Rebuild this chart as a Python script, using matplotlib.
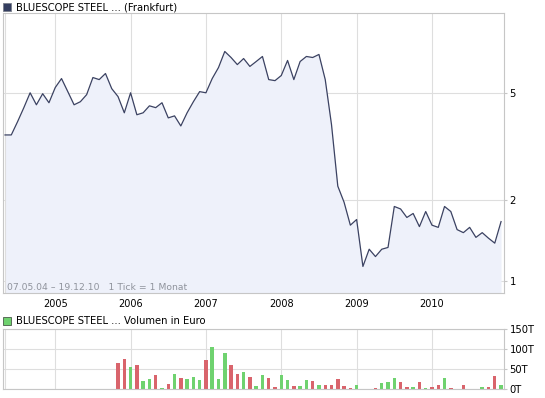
import matplotlib
matplotlib.use("Agg")
import matplotlib.pyplot as plt
from matplotlib.patches import Rectangle

# monthly closing prices, May 2004 .. Dec 2010 (EUR)
prices = [
    3.49, 3.49, 3.91, 4.41, 5.01, 4.52, 4.97, 4.60, 5.24, 5.66,
    5.06, 4.52, 4.64, 4.93, 5.71, 5.61, 5.91, 5.19, 4.85, 4.22,
    5.01, 4.15, 4.22, 4.48, 4.41, 4.60, 4.04, 4.11, 3.77, 4.22,
    4.64, 5.06, 5.01, 5.66, 6.22, 7.14, 6.78, 6.38, 6.72, 6.28,
    6.55, 6.84, 5.61, 5.56, 5.81, 6.61, 5.61, 6.55, 6.84, 6.78,
    6.96, 5.61, 3.81, 2.25, 1.96, 1.61, 1.69, 1.13, 1.31, 1.23,
    1.31, 1.33, 1.89, 1.85, 1.72, 1.78, 1.59, 1.81, 1.61, 1.58,
    1.89, 1.81, 1.55, 1.51, 1.58, 1.45, 1.51, 1.44, 1.38, 1.66,
]

# monthly volume in thousand EUR, Nov 2005 .. Dec 2010
vol_start = 18
volumes = [
    65, 75, 54, 59, 19, 24, 34, 3, 12, 37,
    27, 24, 29, 22, 72, 104, 25, 90, 59, 37,
    42, 29, 7, 34, 27, 5, 34, 22, 7, 7,
    22, 19, 10, 10, 10, 24, 7, 3, 10, 0,
    0, 3, 15, 17, 27, 17, 4, 6, 17, 3,
    6, 10, 27, 3, 1, 10, 0, 0, 6, 6,
    32, 10,
]
# 1 = month closed up (green), 0 = down (red)
vol_up = [
    0, 0, 1, 0, 1, 1, 0, 1, 0, 1,
    0, 1, 1, 1, 0, 1, 1, 1, 0, 0,
    1, 0, 1, 1, 0, 0, 1, 1, 0, 1,
    1, 0, 1, 0, 0, 0, 0, 0, 1, 1,
    1, 0, 1, 1, 1, 0, 0, 1, 0, 1,
    0, 0, 1, 0, 0, 0, 0, 0, 1, 0,
    0, 1,
]

year_labels = ["2005", "2006", "2007", "2008", "2009", "2010"]
year_pos = [8, 20, 32, 44, 56, 68]
price_ticks = [1, 2, 5]
vol_ticks = [0, 50, 100, 150]
vol_tick_labels = ["0T", "50T", "100T", "150T"]

W, H = 545, 398
BORDER = "#c6c6c6"
GRID = "#dedede"
LINE = "#3b4262"
FILL = "#eef1fa"
RED = "#d9646c"
GREEN = "#6fd26f"
FONT = 6.6

fig = plt.figure(figsize=(W / 100, H / 100), dpi=100)
fig.patch.set_facecolor("white")


def px_axes(left, top, right, bottom):
    return fig.add_axes([left / W, 1 - bottom / H,
                         (right - left) / W, (bottom - top) / H])


def style(ax):
    for s in ax.spines.values():
        s.set_color(BORDER)
        s.set_linewidth(0.8)
    ax.yaxis.tick_right()
    ax.tick_params(axis="y", length=2, color=BORDER, labelsize=FONT + 0.6,
                   pad=2)
    ax.tick_params(axis="x", length=0, labelsize=FONT + 0.4, pad=4)
    ax.set_axisbelow(True)
    ax.set_xticks(year_pos)
    ax.grid(True, color=GRID, lw=0.8)
    # left double line
    ax.axvline(0, color=GRID, lw=0.8)


x = list(range(len(prices)))
xlim = (-0.32, 79.47)

# --- price panel
ax = px_axes(3, 13, 504, 293)
style(ax)
ax.set_yscale("log")
ax.fill_between(x, prices, 0.5, color=FILL, lw=0)
ax.plot(x, prices, color=LINE, lw=0.9)
ax.set_xlim(*xlim)
ax.set_ylim(0.90, 9.93)
ax.set_yticks(price_ticks)
ax.set_yticklabels([str(t) for t in price_ticks])
ax.yaxis.set_minor_locator(matplotlib.ticker.NullLocator())
ax.set_xticklabels(year_labels)
ax.text(4 / 501, 6 / 280, "07.05.04 \u2013 19.12.10   1 Tick = 1 Monat",
        transform=ax.transAxes, fontsize=FONT + 0.1, color="#8f939c",
        va="center", ha="left")

# --- volume panel
axv = px_axes(3, 329, 504, 389)
style(axv)
vx = [vol_start + k for k in range(len(volumes))]
cols = [GREEN if u else RED for u in vol_up]
axv.bar(vx, volumes, width=0.55, color=cols, lw=0)
axv.set_xlim(*xlim)
axv.set_ylim(0, 150)
axv.set_yticks(vol_ticks)
axv.set_yticklabels(vol_tick_labels)
axv.set_xticklabels([])

# --- legend captions
fig.patches.append(Rectangle((3 / W, 1 - 11 / H), 8 / W, 8 / H,
                             transform=fig.transFigure, facecolor="#343e60",
                             edgecolor="#7a7f8c", lw=0.6))
fig.text(16 / W, 1 - 7 / H, "BLUESCOPE STEEL ... (Frankfurt)",
         fontsize=FONT + 0.6, va="center", ha="left", color="black")
fig.patches.append(Rectangle((3 / W, 1 - 325 / H), 8 / W, 8 / H,
                             transform=fig.transFigure, facecolor=GREEN,
                             edgecolor="#4a5a4a", lw=0.6))
fig.text(16 / W, 1 - 321 / H, "BLUESCOPE STEEL ... Volumen in Euro",
         fontsize=FONT + 0.6, va="center", ha="left", color="black")

fig.savefig("out.png", dpi=100)
